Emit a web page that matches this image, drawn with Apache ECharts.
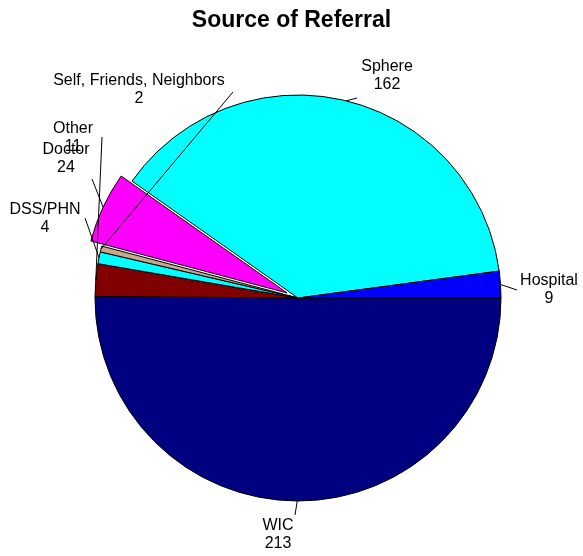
<!DOCTYPE html>
<html>
<head>
<meta charset="utf-8">
<script src="https://cdn.jsdelivr.net/npm/echarts@6/dist/echarts.min.js"></script>
<style>
  html, body { margin: 0; padding: 0; background: #fff; }
  #main { width: 583px; height: 556px; }
</style>
</head>
<body>
<div id="main"></div>
<script>
// slices, clockwise from 3 o'clock
var names = ['WIC', 'Other', 'DSS/PHN', 'Self, Friends, Neighbors', 'Doctor', 'Sphere', 'Hospital'];
var values = [213, 11, 4, 2, 24, 162, 9];
var colors = ['#000080', '#800000', '#00ffff', '#c8a88c', '#ff00ff', '#00ffff', '#0000ff'];
var exploded = 'Doctor';

// where each label sits and where its leader line stops
var labelPos = [[278, 535], [73, 138], [45, 219], [139, 90], [66, 159], [387, 76], [549, 290]];
var lineEnds = [[295, 515], [102, 137], [85, 218], [233, 92], [92, 179], [357, 98], [517, 290]];

var FONT = '"Liberation Sans", Arial, sans-serif';
var CENTER = [298, 298];
var RADIUS = 203;
var OFFSET = 12;

var chart = echarts.init(document.getElementById('main'));

var sliceData = names.map(function (n, i) {
  return {
    name: n,
    value: values[i],
    selected: n === exploded,
    itemStyle: { color: colors[i] }
  };
});

// same slices again, invisible, only to carry labels and leader lines above the pie
var labelData = names.map(function (n, i) {
  return { name: n, value: values[i] };
});

chart.setOption({
  animation: false,
  backgroundColor: '#fff',
  title: {
    text: 'Source of Referral',
    left: 'center',
    top: 4,
    textStyle: { fontFamily: FONT, fontSize: 23, fontWeight: 'bold', color: '#000' }
  },
  series: [{
    type: 'pie',
    z: 2,
    center: CENTER,
    radius: RADIUS,
    startAngle: 0,
    clockwise: true,
    selectedMode: 'single',
    selectedOffset: OFFSET,
    itemStyle: { borderColor: '#000', borderWidth: 1 },
    emphasis: { disabled: true },
    label: { show: false },
    labelLine: { show: false },
    data: sliceData
  }, {
    type: 'pie',
    z: 5,
    silent: true,
    center: CENTER,
    radius: RADIUS,
    startAngle: 0,
    clockwise: true,
    avoidLabelOverlap: false,
    itemStyle: { color: 'rgba(0,0,0,0)', borderWidth: 0 },
    emphasis: { disabled: true },
    label: {
      show: true,
      position: 'outside',
      formatter: '{b}\n{c}',
      fontFamily: FONT,
      fontSize: 16,
      lineHeight: 18,
      color: '#000',
      align: 'center'
    },
    labelLine: {
      show: true,
      length: 10,
      length2: 0,
      lineStyle: { color: '#000', width: 1 }
    },
    labelLayout: function (params) {
      var i = params.dataIndex;
      var p = labelPos[i];
      var e = lineEnds[i];
      var pts = params.labelLinePoints;
      var res = { x: p[0], y: p[1], align: 'center', verticalAlign: 'middle' };
      if (pts) {
        var s = pts[0].slice();
        // the exploded slice's line starts on its moved edge
        if (names[i] === exploded) {
          var dx = s[0] - CENTER[0], dy = s[1] - CENTER[1];
          var d = Math.sqrt(dx * dx + dy * dy);
          s = [s[0] + dx / d * OFFSET, s[1] + dy / d * OFFSET];
        }
        res.labelLinePoints = [s, e, e];
      }
      return res;
    },
    data: labelData
  }]
});
</script>
</body>
</html>
